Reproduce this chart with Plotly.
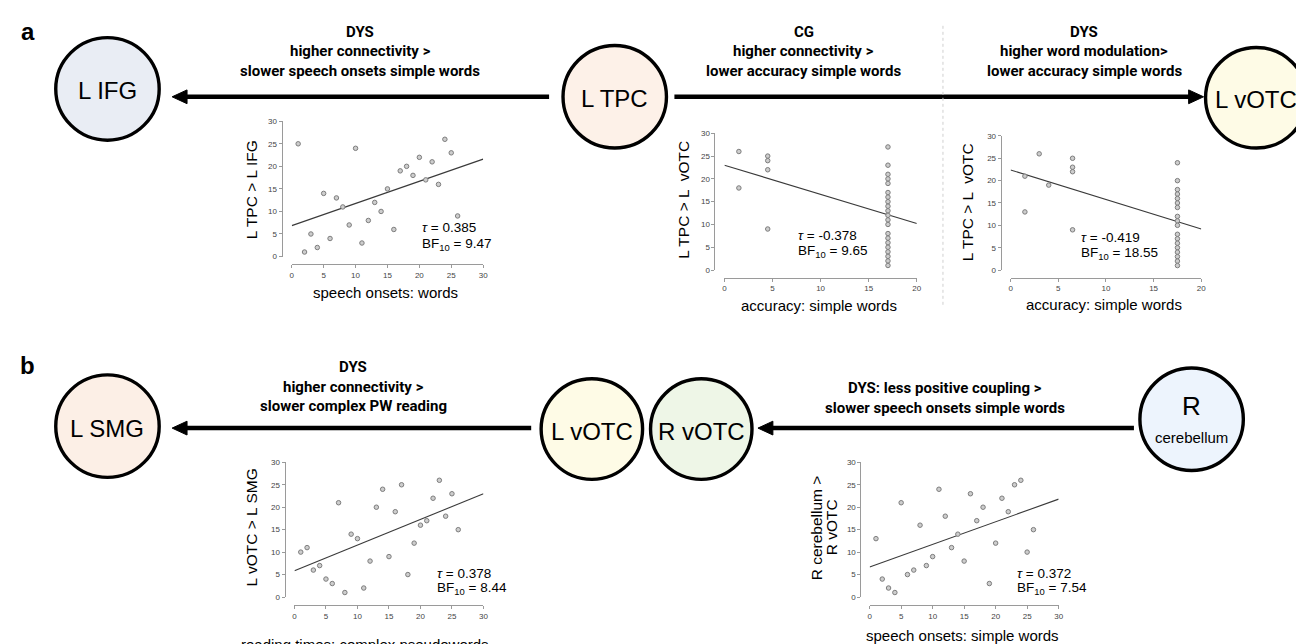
import plotly.graph_objects as go

W, H = 1304, 644

# ---------------- data ----------------
# a1: DYS, L TPC > L IFG vs speech onsets: words (ranks)
a1_x = [1, 2, 3, 4, 5, 6, 7, 8, 9, 10, 11, 12, 13, 14, 15, 16, 17, 18, 19, 20, 21, 22, 23, 24, 25, 26]
a1_y = [25, 1, 5, 2, 14, 4, 13, 11, 7, 24, 3, 8, 12, 10, 15, 6, 19, 20, 18, 22, 17, 21, 16, 26, 23, 9]
a1_fit_x = [0, 30]
a1_fit_y = [6.85, 21.6]
a1_tau, a1_bf = "0.385", "9.47"

# a2: CG, L TPC > L vOTC vs accuracy: simple words (tied ranks)
a2_x = [1.5, 1.5, 4.5, 4.5, 4.5, 4.5] + [17] * 21
a2_y = [26, 18, 25, 24, 22, 9,
        27, 23, 21, 20, 19, 17, 16, 15, 14, 13, 12, 11, 10, 8, 7, 6, 5, 4, 3, 2, 1]
a2_fit_x = [0, 20]
a2_fit_y = [23.0, 10.2]
a2_tau, a2_bf = "-0.378", "9.65"

# a3: DYS, L TPC > L vOTC vs accuracy: simple words (tied ranks)
a3_x = [1.5, 1.5, 3, 4, 6.5, 6.5, 6.5, 6.5] + [17.5] * 18
a3_y = [21, 13, 26, 19, 25, 23, 22, 9,
        24, 20, 18, 17, 16, 15, 14, 12, 11, 10, 8, 7, 6, 5, 4, 3, 2, 1]
a3_fit_x = [0, 20]
a3_fit_y = [22.4, 9.2]
a3_tau, a3_bf = "-0.419", "18.55"

# b1: DYS, L vOTC > L SMG vs reading times: complex pseudowords
b1_x = [1, 2, 3, 4, 5, 6, 7, 8, 9, 10, 11, 12, 13, 14, 15, 16, 17, 18, 19, 20, 21, 22, 23, 24, 25, 26]
b1_y = [10, 11, 6, 7, 4, 3, 21, 1, 14, 13, 2, 8, 20, 24, 9, 19, 25, 5, 12, 16, 17, 22, 26, 18, 23, 15]
b1_fit_x = [0, 30]
b1_fit_y = [5.85, 23.0]
b1_tau, b1_bf = "0.378", "8.44"

# b2: DYS, R cerebellum > R vOTC vs speech onsets: simple words
b2_x = [1, 2, 3, 4, 5, 6, 7, 8, 9, 10, 11, 12, 13, 14, 15, 16, 17, 18, 19, 20, 21, 22, 23, 24, 25, 26]
b2_y = [13, 4, 2, 1, 21, 5, 6, 16, 7, 9, 24, 18, 11, 14, 8, 23, 17, 20, 3, 12, 22, 19, 25, 26, 10, 15]
b2_fit_x = [0, 30]
b2_fit_y = [6.7, 21.8]
b2_tau, b2_bf = "0.372", "7.54"

# ---------------- helpers ----------------
def px(x):
    return x / W

def py(y):
    return 1 - y / H

NARROW = "Roboto, Liberation Sans Narrow, Arial Narrow, sans-serif"
SANS = "Liberation Sans, Arial, sans-serif"

fig = go.Figure()
layout = dict(
    width=W, height=H, margin=dict(l=0, r=0, t=0, b=0),
    paper_bgcolor="white", plot_bgcolor="rgba(0,0,0,0)",
    showlegend=False,
    xaxis=dict(domain=[0, 1], range=[0, W], visible=False, fixedrange=True),
    yaxis=dict(domain=[0, 1], range=[H, 0], visible=False, fixedrange=True),
)
# invisible background trace for pixel-coordinate canvas
fig.add_trace(go.Scatter(x=[0, W], y=[0, H], mode="markers", marker=dict(opacity=0),
                         hoverinfo="skip", xaxis="x", yaxis="y"))

shapes = []
annotations = []


def text(x, y, s, size, bold=False, family=SANS, xanchor="center", angle=0, color="black"):
    if bold:
        s = "<b>" + s + "</b>"
    annotations.append(dict(x=x, y=y, xref="x", yref="y", text=s, showarrow=False,
                            font=dict(size=size, family=family, color=color),
                            xanchor=xanchor, yanchor="middle", textangle=angle))


def circle(cx, cy, r, fill):
    shapes.append(dict(type="circle", xref="x", yref="y", x0=cx - r, x1=cx + r, y0=cy - r, y1=cy + r,
                       fillcolor=fill, line=dict(color="black", width=3.4), layer="above"))


def arrow(x_from, x_to, y):
    d = 1 if x_to > x_from else -1
    hl, hw = 15, 7
    shapes.append(dict(type="line", xref="x", yref="y", x0=x_from, x1=x_to - d * hl + d * 1, y0=y, y1=y,
                       line=dict(color="black", width=4.5)))
    shapes.append(dict(type="path", xref="x", yref="y",
                       path=f"M {x_to} {y} L {x_to - d * hl} {y - hw} L {x_to - d * hl} {y + hw} Z",
                       fillcolor="black", line=dict(color="black", width=1)))


def scatter_panel(i, xs, ys, fx, fy, xr, xt, xpx, yr, ypx, xline, yline):
    xa = f"xaxis{i}"
    ya = f"yaxis{i}"
    axis_common = dict(showline=True, linecolor="#9a9a9a", linewidth=1, ticks="outside", ticklen=3,
                       tickcolor="#9a9a9a", tickfont=dict(size=8, family=SANS, color="#444444"),
                       showgrid=False, zeroline=False, fixedrange=True)
    layout[xa] = dict(domain=[px(xpx[0]), px(xpx[1])], range=xr, anchor="free", position=py(xline),
                      tickvals=xt, **axis_common)
    layout[ya] = dict(domain=[py(ypx[0]), py(ypx[1])], range=yr, anchor="free", position=px(yline),
                      tickvals=[0, 5, 10, 15, 20, 25, 30], **axis_common)
    fig.add_trace(go.Scatter(x=fx, y=fy, mode="lines", line=dict(color="#3a3a3a", width=1.1),
                             xaxis=f"x{i}", yaxis=f"y{i}", hoverinfo="skip", cliponaxis=False))
    fig.add_trace(go.Scatter(x=xs, y=ys, mode="markers",
                             marker=dict(size=4.5, color="#cdcdcd", line=dict(color="#7d7d7d", width=1)),
                             xaxis=f"x{i}", yaxis=f"y{i}", cliponaxis=False))


HS = 15  # header font size
CS = 24  # circle label size

# ---------------- panel a ----------------
text(18, 20, "a", 24, bold=True)
circle(98, 78, 52, "#e9edf4")
text(98, 80, "L IFG", CS)
circle(608, 86, 52, "#fdf1e8")
text(608, 88, "L TPC", CS)
circle(1253, 87, 51, "#fefbe6")
text(1253, 89, "L vOTC", CS)

arrow(542, 163, 86)
arrow(668, 1200, 86)

for yy, s in zip([20, 40, 60], ["DYS", "higher connectivity >", "slower speech onsets simple words"]):
    text(352, yy, s, HS, bold=True, family=NARROW)
for yy, s in zip([20, 40, 60], ["CG", "higher connectivity >", "lower accuracy simple words"]):
    text(798, yy, s, HS, bold=True, family=NARROW)
for yy, s in zip([20, 40, 60], ["DYS", "higher word modulation>", "lower accuracy simple words"]):
    text(1080, yy, s, HS, bold=True, family=NARROW)

shapes.append(dict(type="line", xref="x", yref="y", x0=938, x1=938, y0=14, y1=300,
                   line=dict(color="#cfcfcf", width=1, dash="dot")))

scatter_panel(2, a1_x, a1_y, a1_fit_x, a1_fit_y, [0, 30], [0, 5, 10, 15, 20, 25, 30], (283.3, 475.7),
              [0, 30], (248, 110.8), 256, 273)
text(243, 180, "L TPC > L IFG", 15.5, angle=-90)
text(378, 284, "speech onsets: words", 15)
text(412, 219, f"<i>τ</i> = {a1_tau}", 13.5, xanchor="left")
text(412, 236, f"BF<sub>10</sub> = {a1_bf}", 13.5, xanchor="left")

scatter_panel(3, a2_x, a2_y, a2_fit_x, a2_fit_y, [0, 20], [0, 5, 10, 15, 20], (718.3, 911.7),
              [0, 30], (261.7, 123), 269.3, 708.3)
text(677, 190, "L TPC > L  vOTC", 15.5, angle=-90)
text(813, 298, "accuracy: simple words", 15)
text(790, 227, f"<i>τ</i> = {a2_tau}", 13.5, xanchor="left")
text(790, 243, f"BF<sub>10</sub> = {a2_bf}", 13.5, xanchor="left")

scatter_panel(4, a3_x, a3_y, a3_fit_x, a3_fit_y, [0, 20], [0, 5, 10, 15, 20], (1006, 1197.7),
              [0, 30], (261.7, 125.7), 269.3, 996)
text(962, 193, "L TPC > L  vOTC", 15.5, angle=-90)
text(1100, 297, "accuracy: simple words", 15)
text(1075, 229, f"<i>τ</i> = {a3_tau}", 13.5, xanchor="left")
text(1075, 245, f"BF<sub>10</sub> = {a3_bf}", 13.5, xanchor="left")

# ---------------- panel b ----------------
text(18, 358, "b", 24, bold=True)
circle(98, 420, 52, "#fcefe6")
text(98, 422, "L SMG", CS)
circle(585, 423, 51, "#fefbe6")
text(585, 425, "L vOTC", CS)
circle(695, 423, 51, "#eef6e7")
text(695, 425, "R vOTC", CS)
circle(1188, 413, 52, "#edf4fd")
text(1188, 400, "R", 26)
text(1188, 432, "cerebellum", 15)

arrow(524, 163, 422)
arrow(1130, 752, 422)

for yy, s in zip([360, 380, 400], ["DYS", "higher connectivity >", "slower complex PW reading"]):
    text(345, yy, s, HS, bold=True, family=NARROW)
for yy, s in zip([381, 402], ["DYS: less positive coupling >", "slower speech onsets simple words"]):
    text(940, yy, s, HS, bold=True, family=NARROW)

scatter_panel(5, b1_x, b1_y, b1_fit_x, b1_fit_y, [0, 30], [0, 5, 10, 15, 20, 25, 30], (286, 476),
              [0, 30], (593.3, 456.7), 601.7, 276)
text(243, 523, "L vOTC > L SMG", 15.5, angle=-90)
text(357, 641, "reading times: complex pseudowords", 15)
text(427, 569, f"<i>τ</i> = {b1_tau}", 13.5, xanchor="left")
text(427, 585, f"BF<sub>10</sub> = {b1_bf}", 13.5, xanchor="left")

scatter_panel(6, b2_x, b2_y, b2_fit_x, b2_fit_y, [0, 30], [0, 5, 10, 15, 20, 25, 30], (864.3, 1054.3),
              [0, 30], (593.3, 456.7), 601.7, 855)
text(811, 523, "R cerebellum >", 15.5, angle=-90)
text(826, 523, "R vOTC", 15.5, angle=-90)
text(958, 632, "speech onsets: simple words", 15)
text(1010, 569, f"<i>τ</i> = {b2_tau}", 13.5, xanchor="left")
text(1010, 585, f"BF<sub>10</sub> = {b2_bf}", 13.5, xanchor="left")

layout["shapes"] = shapes
layout["annotations"] = annotations
fig.update_layout(**layout)
fig.write_html("out.html")
